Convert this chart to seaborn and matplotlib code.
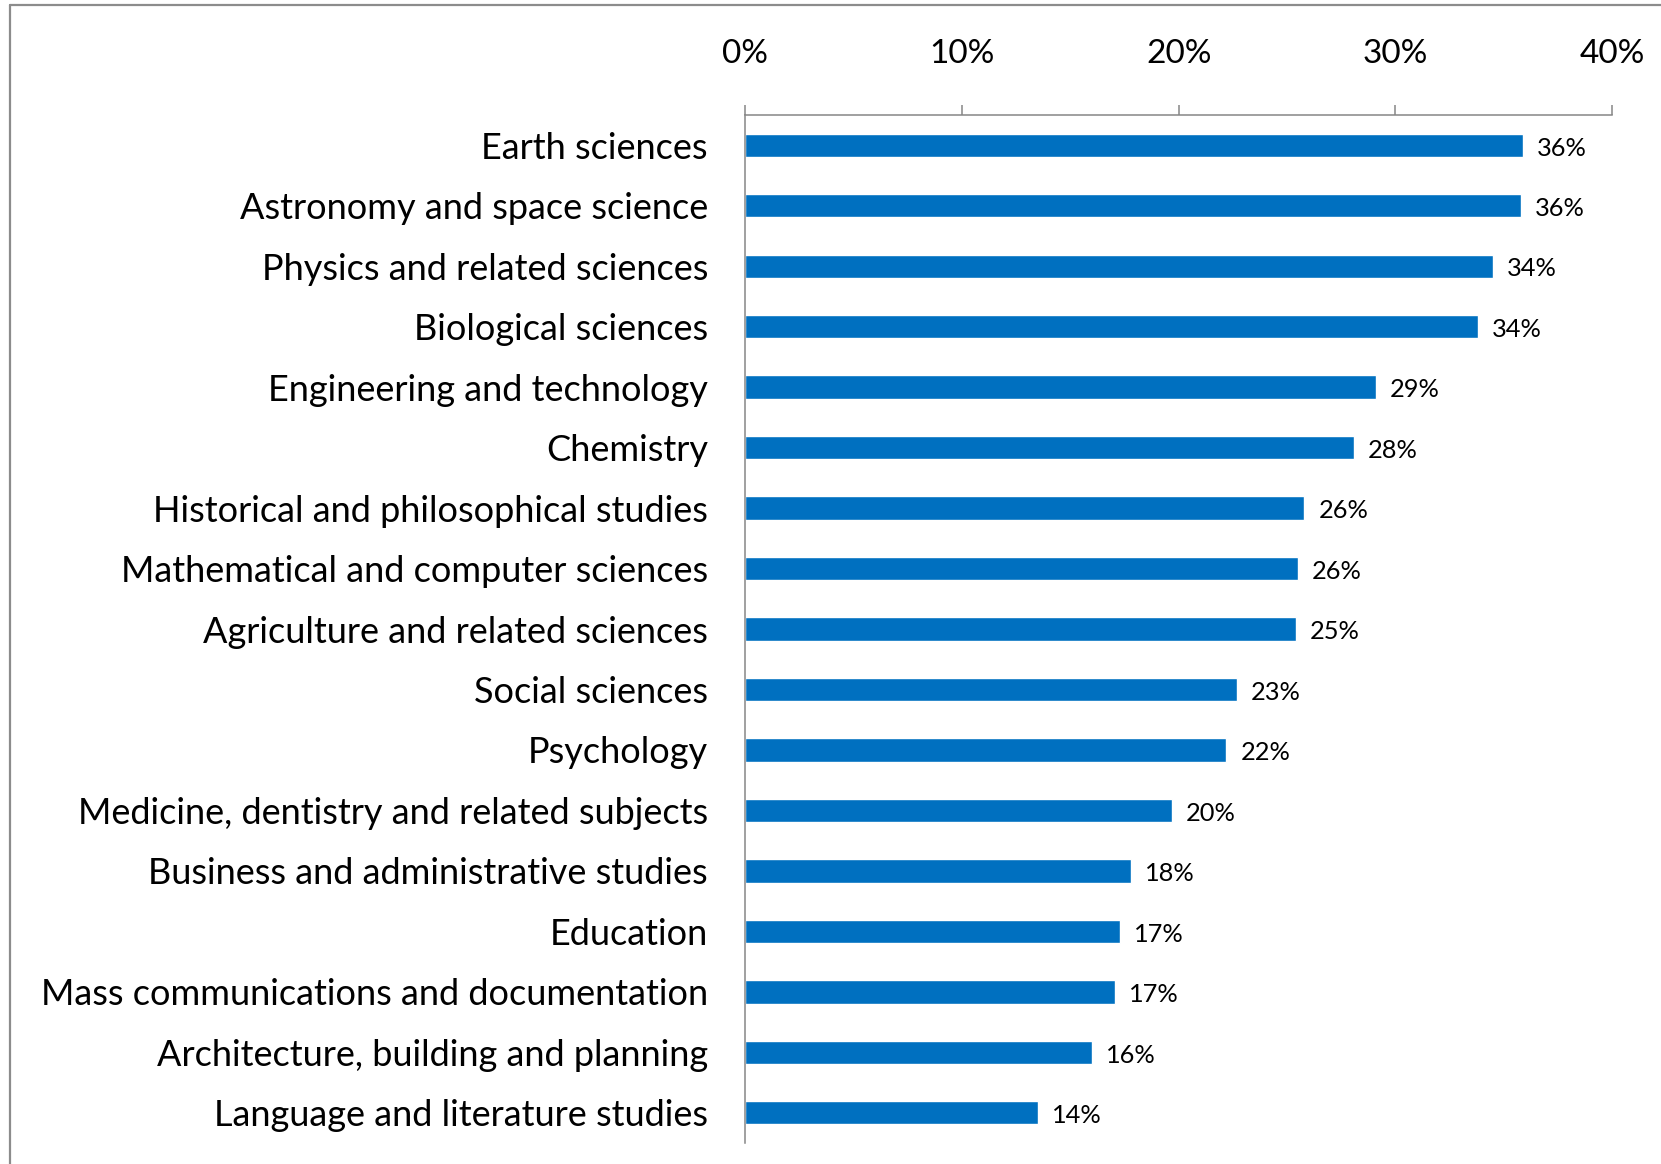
import pandas as pd
import matplotlib.pyplot as plt
import seaborn as sns
from matplotlib.lines import Line2D

# Data (percent)
subjects = [
    "Earth sciences",
    "Astronomy and space science",
    "Physics and related sciences",
    "Biological sciences",
    "Engineering and technology",
    "Chemistry",
    "Historical and philosophical studies",
    "Mathematical and computer sciences",
    "Agriculture and related sciences",
    "Social sciences",
    "Psychology",
    "Medicine, dentistry and related subjects",
    "Business and administrative studies",
    "Education",
    "Mass communications and documentation",
    "Architecture, building and planning",
    "Language and literature studies",
]
shares = [35.9, 35.8, 34.5, 33.8, 29.1, 28.1, 25.8, 25.5, 25.4,
          22.7, 22.2, 19.7, 17.8, 17.3, 17.05, 16.0, 13.5]
x_ticks = [0, 10, 20, 30, 40]

df = pd.DataFrame({"subject": subjects, "share": shares})

sns.set_style("white")
plt.rcParams["font.family"] = ["Lato", "DejaVu Sans"]

fig = plt.figure(figsize=(16.61, 11.64), dpi=100)
ax = fig.add_axes([0.4488, 0.018, 0.5217, 0.8832])

sns.barplot(data=df, y="subject", x="share", orient="h",
            color="#0070C0", width=0.385, saturation=1, ax=ax)

ax.set_xlim(0, 40)
ax.set_xticks(x_ticks)
ax.set_xticklabels([f"{t}%" for t in x_ticks])
ax.xaxis.tick_top()
ax.set_xlabel("")
ax.set_ylabel("")

ax.tick_params(axis="x", top=True, bottom=False, direction="out",
               length=7.2, width=1.1, color="#868686",
               pad=26, labelsize=24, labelcolor="black")
ax.tick_params(axis="y", left=False, length=0, pad=27,
               labelsize=26, labelcolor="black")

for side in ["right", "bottom"]:
    ax.spines[side].set_visible(False)
for side in ["top", "left"]:
    ax.spines[side].set_color("#868686")
    ax.spines[side].set_linewidth(1.1)

texts = ax.bar_label(ax.containers[0], labels=[f"{v:.0f}%" for v in shares],
                     padding=10, fontsize=18.3, color="black")
for t in texts:
    t.xyann = (10, -2)

# outer chart frame (top and left edges visible)
fig.add_artist(Line2D([0.006, 1.0], [0.996, 0.996], color="#8c8c8c", lw=1.6))
fig.add_artist(Line2D([0.006, 0.006], [0.0, 0.996], color="#8c8c8c", lw=1.6))

fig.savefig("out.png", dpi=100, facecolor="white")
